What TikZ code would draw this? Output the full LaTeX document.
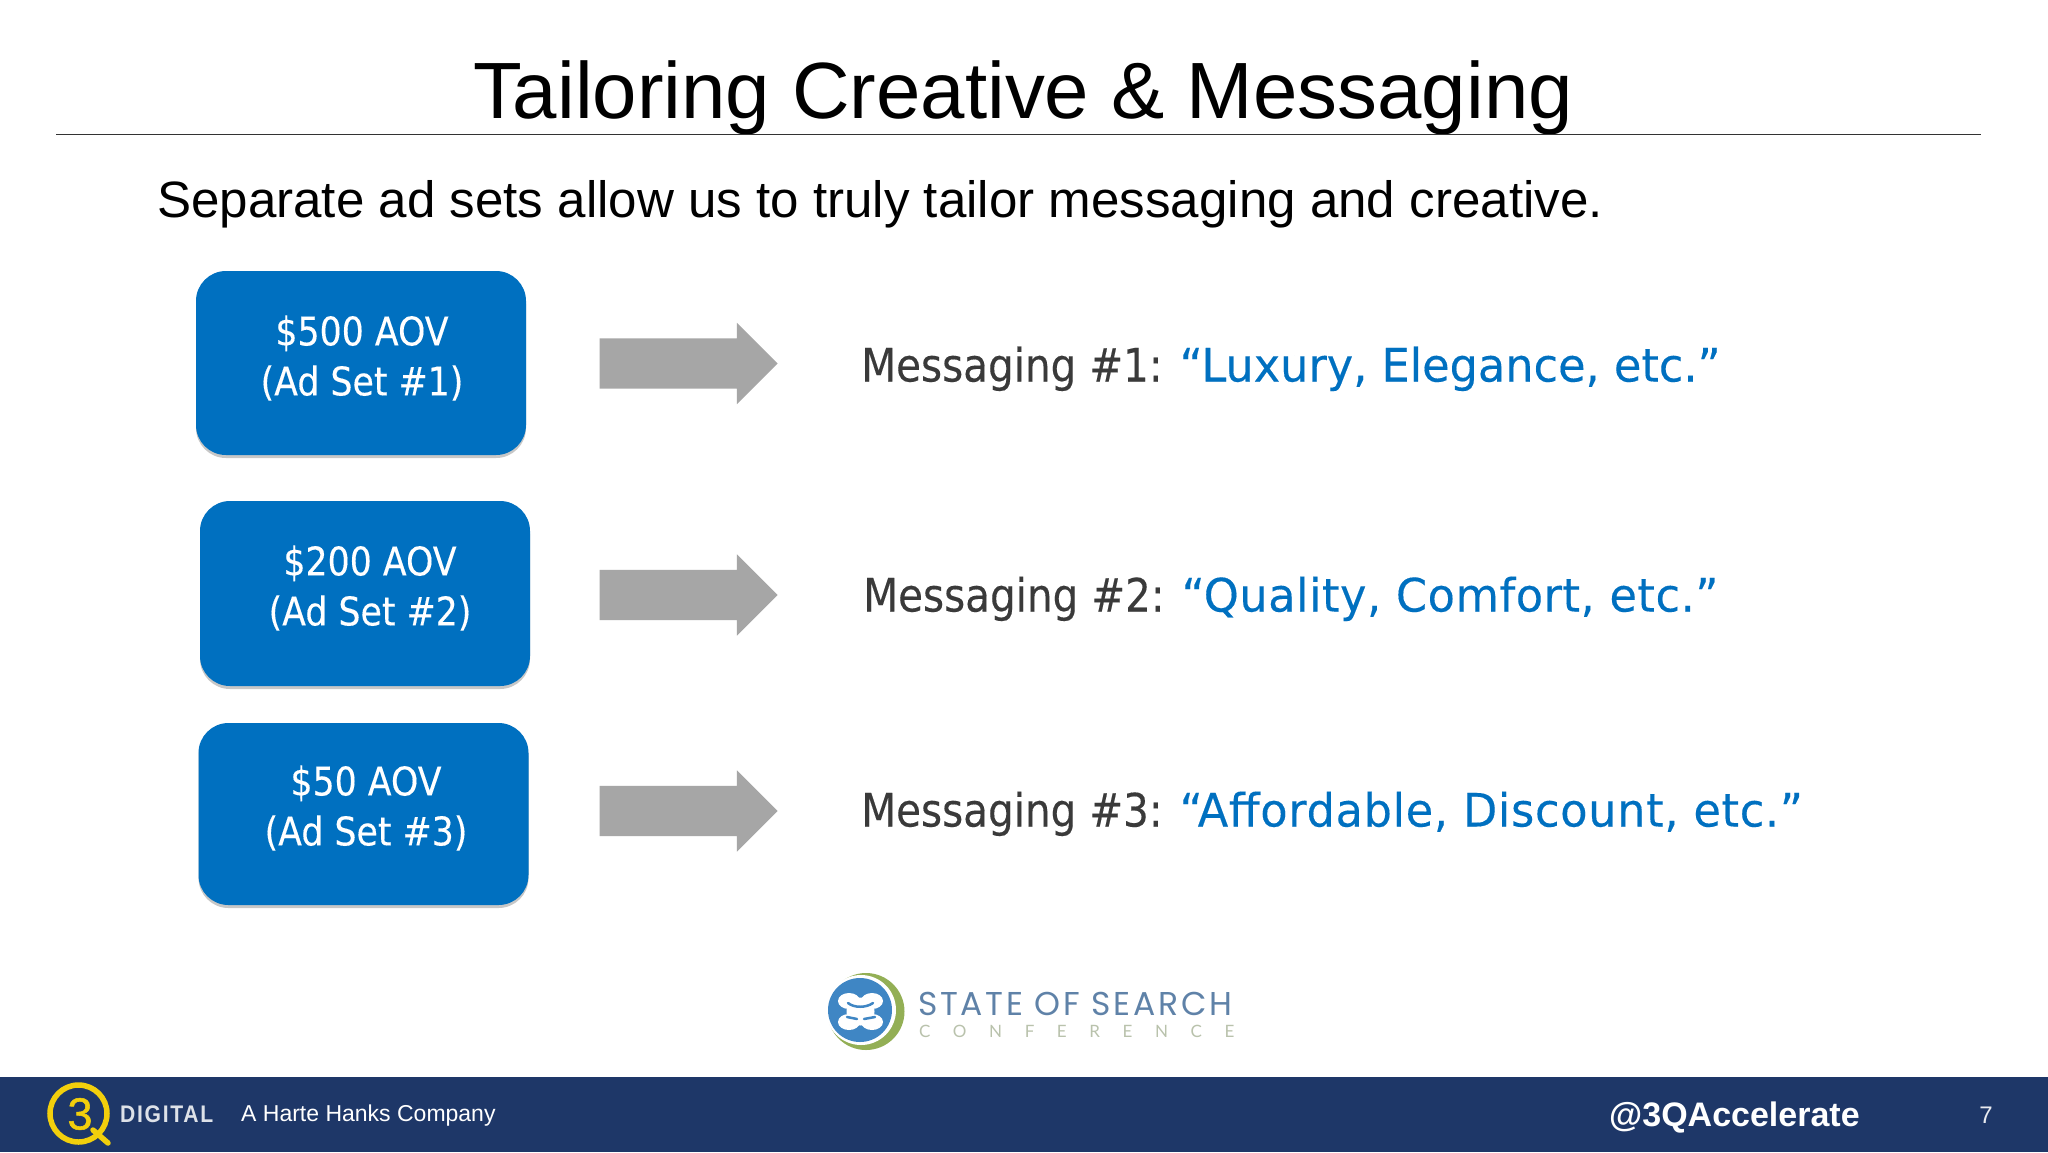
\documentclass[tikz,border=0pt]{standalone}
\usepackage{fontspec}
\setmainfont{Liberation Sans}
\newfontfamily\boxfont[FakeStretch=0.88,FakeBold=0.25]{DejaVu Sans}
\newfontfamily\quotefont[FakeStretch=0.97,FakeBold=0.25]{DejaVu Sans}
\newfontfamily\confont[LetterSpace=8.3]{Poppins}
\newfontfamily\spacedfont[LetterSpace=133]{Lato}
\newfontfamily\digitalfont[LetterSpace=7,FakeStretch=0.88]{Liberation Sans}
\newfontfamily\threefont[FakeBold=1.2]{Liberation Sans}
\usetikzlibrary{shapes.arrows,shadows}
\definecolor{adblue}{HTML}{0070C0}
\definecolor{footblue}{HTML}{1E3768}
\definecolor{arrowgray}{HTML}{A6A6A6}
\definecolor{msgdark}{HTML}{3A3A3A}
\definecolor{qyellow}{HTML}{F2CF0C}
\definecolor{conblue}{HTML}{3F86C4}
\definecolor{congreen}{HTML}{93AF55}
\definecolor{context}{HTML}{5F82A8}
\definecolor{consub}{HTML}{B9C2AC}
\tikzset{
	adbox/.style={rectangle,rounded corners=30pt,fill=adblue,inner sep=0pt,
		drop shadow={shadow xshift=0pt,shadow yshift=-3pt,opacity=.22,fill=black}},
	adlabel/.style={text=white,align=center,font=\boxfont\fontsize{39.5}{50}\selectfont},
	blockarrow/.style={single arrow,fill=arrowgray,inner xsep=0pt,inner ysep=25pt,outer sep=0pt,
		minimum height=178pt,single arrow head extend=15.5pt},
	msgtext/.style={anchor=base west,text=msgdark,inner sep=0pt,font=\boxfont\fontsize{46}{50}\selectfont},
	logoslit/.style={conblue,line width=2.5pt,line cap=round}
}
\begin{document}
\begin{tikzpicture}[x=1pt,y=-1pt]
	
	\useasboundingbox[fill=white] (0,0) rectangle (2048,1152);
	
	\node[anchor=base,inner sep=0pt,font=\fontsize{79.8}{90}\selectfont] (title) at (1023,118) {Tailoring Creative \& Messaging};
	\coordinate (rulea) at (56,134.5);
	\coordinate (ruleb) at (1981,134.5);
	\draw[line width=1pt,black!80] (rulea) -- (ruleb);
	\node[anchor=base west,inner sep=0pt,font=\fontsize{51.1}{60}\selectfont] (subtitle) at (157,217) {Separate ad sets allow us to truly tailor messaging and creative.};
	
	\node[adbox,minimum width=330pt,minimum height=184pt] (box1) at (361,363) {};
	\node[adbox,minimum width=330pt,minimum height=185pt] (box2) at (365,593.5) {};
	\node[adbox,minimum width=330pt,minimum height=182pt] (box3) at (363.5,814) {};
	\node[adlabel] (label1) at (362,358) {\$500 AOV\\(Ad Set \#1)};
	\node[adlabel] (label2) at (370,588) {\$200 AOV\\(Ad Set \#2)};
	\node[adlabel] (label3) at (366,808) {\$50 AOV\\(Ad Set \#3)};
	
	\node[blockarrow] (arrow1) at (676,363.5) {};
	\node[blockarrow] (arrow2) at (676,595) {};
	\node[blockarrow] (arrow3) at (676,811) {};
	
	\node[msgtext] (msg1) at (861,381.5) {Messaging \#1: \textcolor{adblue}{\quotefont “Luxury, Elegance, etc.”}};
	\node[msgtext] (msg2) at (863,611.5) {Messaging \#2: \textcolor{adblue}{\quotefont\addfontfeature{LetterSpace=1.2}“Quality, Comfort, etc.”}};
	\node[msgtext] (msg3) at (861,826.5) {Messaging \#3: \textcolor{adblue}{\quotefont\addfontfeature{LetterSpace=1.5}“Affordable, Discount, etc.”}};
	
	\fill[congreen] (866,1011.5) circle (38.5);
	\fill[white] (861,1010) circle (35);
	\fill[conblue] (860,1010) circle (32);
	\fill[white] (849,1001) ellipse (11 and 8);
	\fill[white] (872,1001) ellipse (11 and 8);
	\fill[white] (849,1022) ellipse (11 and 8);
	\fill[white] (872,1022) ellipse (11 and 8);
	\fill[white] (860.5,1011.5) ellipse (14 and 14);
	\coordinate (slita) at (848,1003);
	\coordinate (slitb) at (873,1003);
	\coordinate (slitc) at (847,1017);
	\coordinate (slitd) at (857,1019);
	\coordinate (slite) at (864,1019);
	\coordinate (slitf) at (875,1017);
	\draw[logoslit] (slita) .. controls (854,1008) and (866,1008) .. (slitb);
	\draw[logoslit] (slitc) -- (slitd);
	\draw[logoslit] (slite) -- (slitf);
	\node[anchor=base west,inner sep=0pt,text=context,font=\confont\fontsize{33}{40}\selectfont] (state) at (918,1015) {STATE OF SEARCH};
	\node[anchor=base west,inner sep=0pt,text=consub,font=\spacedfont\fontsize{17}{20}\selectfont] (conf) at (919,1037) {CONFERENCE};
	
	\fill[footblue] (0,1077) rectangle (2048,1152);
	\draw[qyellow,line width=5.5pt] (78.5,1113.5) circle (28.5);
	\coordinate (taila) at (93,1130);
	\coordinate (tailb) at (108,1143);
	\draw[qyellow,line width=5.5pt,line cap=round] (taila) -- (tailb);
	\node[text=qyellow,inner sep=0pt,font=\threefont\fontsize{45}{47}\selectfont] (three) at (80,1114) {3};
	\node[anchor=base west,inner sep=0pt,text=white!85!footblue,font=\digitalfont\bfseries\fontsize{24}{26}\selectfont] (digital) at (120,1122) {DIGITAL};
	\node[anchor=base west,inner sep=0pt,text=white,font=\fontsize{23}{28}\selectfont] (harte) at (241,1121) {A Harte Hanks Company};
	\node[anchor=base west,inner sep=0pt,text=white,font=\bfseries\fontsize{34}{40}\selectfont] (handle) at (1609,1126) {@3QAccelerate};
	\node[anchor=base,inner sep=0pt,text=white!90!footblue,font=\fontsize{24}{28}\selectfont] (page) at (1986,1123) {7};
	
\end{tikzpicture}
\end{document}
